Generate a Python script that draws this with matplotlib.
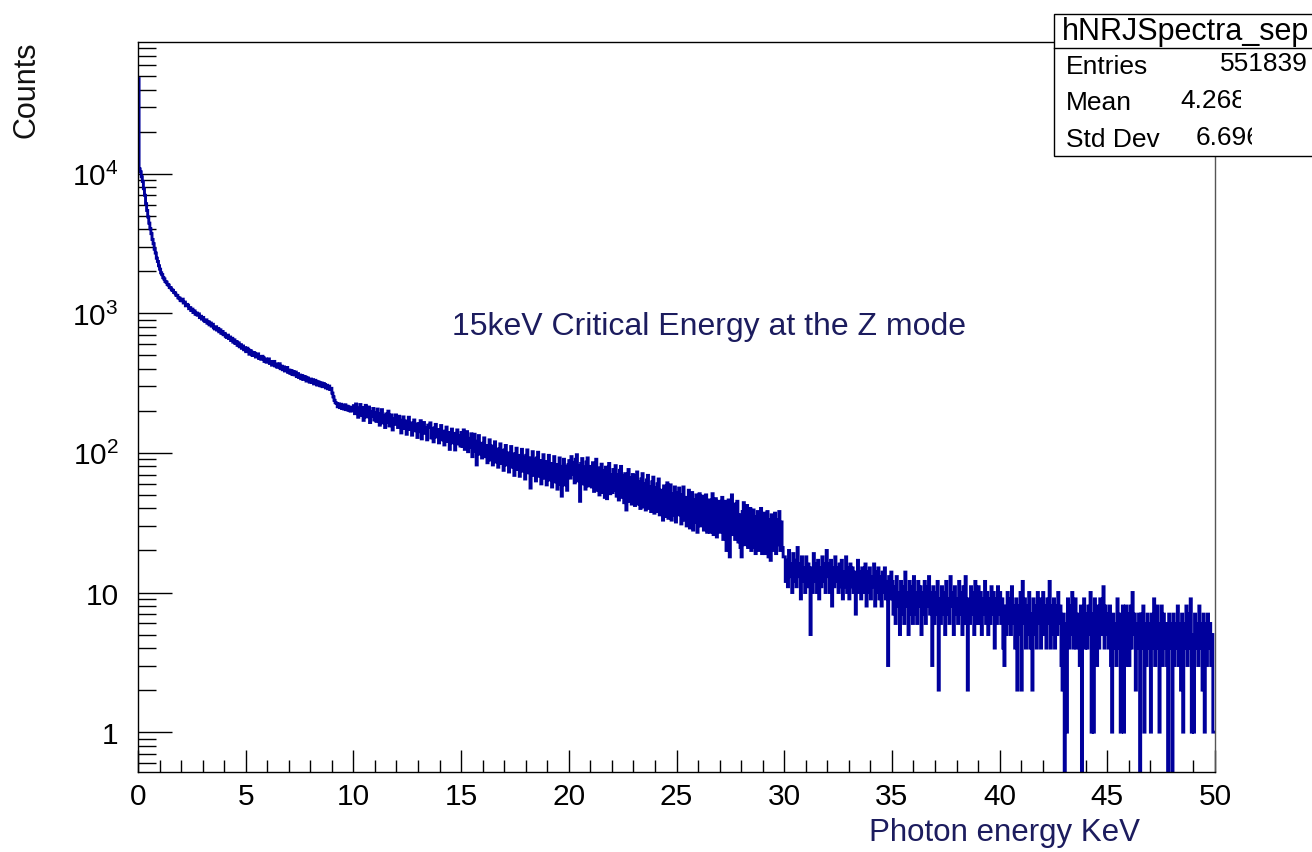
import numpy as np
import matplotlib
matplotlib.use("Agg")
import matplotlib.pyplot as plt
from matplotlib.patches import Rectangle
from matplotlib.lines import Line2D
from matplotlib.transforms import Bbox, TransformedBbox
from matplotlib.ticker import FixedLocator, MultipleLocator, LogLocator, NullFormatter

plt.rcParams['font.family'] = ['Liberation Sans', 'DejaVu Sans']
plt.rcParams['mathtext.fontset'] = 'custom'
plt.rcParams['mathtext.rm'] = 'Liberation Sans'
plt.rcParams['mathtext.it'] = 'Liberation Sans:italic'
plt.rcParams['mathtext.bf'] = 'Liberation Sans:bold'

# ---- spectrum: counts per 0.05 keV bin, in 5 keV blocks ----
bin_width = 0.05

counts_00_05 = [
    48000, 10800, 10300, 9500, 8800, 7800, 7000, 6100, 5450, 4900,
    4420, 4030, 3720, 3380, 3150, 2880, 2700, 2480, 2350, 2190,
    2070, 1950, 1890, 1800, 1760, 1690, 1670, 1610, 1590, 1530,
    1520, 1470, 1460, 1410, 1400, 1350, 1340, 1290, 1285, 1240,
    1228, 1262, 1185, 1203, 1131, 1158, 1142, 1079, 1098, 1046,
    1071, 1012, 1040, 983, 1005, 968, 990, 931, 952, 908,
    934, 886, 872, 897, 849, 871, 826, 852, 809, 834,
    786, 772, 801, 758, 779, 737, 761, 718, 741, 702,
    718, 684, 671, 697, 659, 676, 638, 662, 621, 645,
    607, 628, 589, 614, 575, 596, 561, 583, 548, 566,
]
counts_05_10 = [
    531, 562, 548, 509, 541, 527, 498, 523, 517, 486,
    503, 512, 474, 489, 468, 492, 481, 452, 470, 446,
    462, 471, 437, 451, 425, 446, 452, 419, 433, 410,
    427, 435, 401, 418, 394, 413, 386, 404, 409, 377,
    392, 371, 389, 364, 381, 362, 379, 352, 370, 347,
    361, 340, 358, 336, 352, 349, 327, 345, 331, 321,
    338, 319, 334, 312, 331, 326, 306, 323, 318, 302,
    317, 298, 314, 309, 292, 305, 288, 301, 285, 290,
    268, 252, 238, 229, 226, 214, 224, 211, 223, 208,
    219, 206, 221, 204, 216, 202, 213, 199, 211, 203,
]
counts_10_15 = [
    218, 191, 224, 209, 180, 206, 222, 186, 211, 171,
    203, 219, 181, 198, 213, 165, 197, 183, 208, 172,
    194, 168, 206, 181, 158, 190, 204, 164, 184, 152,
    190, 166, 199, 156, 178, 187, 146, 176, 160, 187,
    178, 152, 183, 158, 139, 171, 181, 150, 169, 136,
    168, 180, 147, 164, 134, 161, 172, 144, 160, 129,
    162, 142, 170, 126, 156, 165, 138, 152, 124, 158,
    152, 164, 128, 149, 120, 151, 160, 130, 146, 118,
    146, 157, 124, 143, 114, 142, 153, 121, 140, 106,
    140, 148, 118, 137, 105, 138, 146, 116, 133, 112,
]
counts_15_20 = [
    140, 111, 146, 106, 129, 142, 102, 127, 110, 137,
    94, 126, 136, 103, 82, 121, 133, 98, 117, 92,
    117, 128, 94, 113, 85, 111, 124, 89, 112, 82,
    108, 120, 86, 105, 79, 107, 116, 84, 103, 75,
    105, 113, 82, 100, 73, 99, 111, 79, 98, 69,
    98, 108, 76, 95, 68, 96, 106, 74, 93, 65,
    96, 105, 72, 92, 56, 91, 102, 69, 90, 63,
    92, 101, 68, 88, 60, 87, 97, 66, 86, 59,
    86, 96, 64, 84, 57, 83, 94, 62, 82, 55,
    82, 92, 60, 49, 80, 90, 59, 79, 54, 82,
]
counts_20_25 = [
    88, 66, 94, 70, 85, 61, 90, 97, 63, 81,
    45, 84, 91, 60, 79, 55, 86, 92, 58, 76,
    80, 57, 85, 53, 75, 90, 54, 78, 50, 72,
    83, 52, 74, 48, 79, 47, 73, 84, 51, 70,
    52, 76, 54, 81, 49, 70, 46, 75, 80, 48,
    69, 44, 71, 39, 67, 76, 45, 66, 43, 70,
    64, 42, 68, 73, 43, 62, 40, 65, 71, 41,
    60, 39, 64, 69, 40, 57, 38, 62, 67, 37,
    56, 38, 60, 65, 36, 54, 37, 33, 58, 35,
    52, 61, 34, 53, 59, 33, 51, 36, 57, 32,
]
counts_25_30 = [
    52, 36, 56, 39, 31, 50, 57, 33, 48, 30,
    47, 54, 29, 44, 52, 28, 46, 32, 50, 27,
    45, 51, 30, 43, 49, 28, 42, 50, 27, 40,
    46, 27, 42, 51, 26, 40, 47, 25, 38, 45,
    27, 41, 48, 24, 39, 45, 20, 40, 46, 18,
    37, 50, 26, 43, 24, 38, 45, 23, 36, 21,
    18, 38, 44, 22, 35, 42, 21, 34, 40, 20,
    33, 39, 21, 19, 35, 38, 20, 33, 40, 19,
    32, 37, 19, 31, 38, 18, 33, 17, 36, 20,
    31, 37, 19, 33, 22, 38, 20, 32, 21, 18,
]
counts_30_35 = [
    18, 12, 17, 11, 20, 13, 16, 10, 19, 12,
    17, 11, 21, 13, 16, 9, 18, 12, 15, 10,
    18, 11, 16, 12, 5, 15, 10, 19, 12, 16,
    10, 17, 9, 15, 11, 18, 12, 16, 10, 20,
    13, 16, 10, 17, 8, 15, 11, 18, 12, 15,
    10, 16, 11, 17, 9, 14, 11, 18, 10, 15,
    9, 16, 11, 15, 10, 14, 7, 13, 17, 10,
    14, 9, 15, 10, 13, 16, 8, 14, 10, 15,
    9, 13, 11, 16, 8, 14, 10, 15, 9, 13,
    8, 14, 10, 15, 9, 12, 3, 13, 9, 14,
]
counts_35_40 = [
    12, 7, 11, 6, 13, 8, 10, 5, 12, 7,
    11, 6, 14, 8, 10, 5, 12, 7, 11, 6,
    13, 7, 10, 6, 12, 8, 11, 5, 10, 7,
    12, 6, 11, 8, 13, 7, 10, 3, 11, 6,
    10, 7, 12, 2, 9, 6, 11, 7, 10, 5,
    12, 7, 9, 6, 13, 8, 10, 5, 11, 7,
    9, 6, 12, 7, 10, 5, 11, 6, 13, 7,
    2, 9, 6, 11, 7, 10, 5, 12, 6, 9,
    11, 6, 10, 5, 9, 7, 12, 6, 10, 5,
    9, 6, 11, 7, 10, 4, 9, 6, 11, 7,
]
counts_40_45 = [
    10, 6, 9, 4, 3, 8, 5, 10, 6, 9,
    5, 11, 6, 8, 4, 9, 2, 8, 5, 10,
    2, 12, 6, 9, 4, 8, 5, 10, 4, 7,
    2, 9, 5, 8, 4, 10, 6, 9, 4, 7,
    10, 5, 8, 4, 9, 6, 12, 4, 8, 5,
    9, 4, 8, 5, 10, 6, 8, 3, 2, 7,
    0, 6, 1, 9, 4, 8, 5, 10, 4, 7,
    9, 4, 7, 5, 3, 8, 0, 6, 9, 4,
    7, 4, 8, 5, 10, 1, 7, 1, 9, 5,
    3, 8, 4, 9, 5, 7, 11, 4, 8, 5,
]
counts_45_50 = [
    7, 4, 8, 3, 1, 7, 4, 6, 3, 9,
    4, 7, 1, 6, 8, 1, 5, 8, 3, 7,
    3, 8, 4, 10, 5, 7, 2, 6, 4, 7,
    0, 7, 4, 8, 1, 6, 3, 7, 4, 6,
    1, 7, 4, 9, 3, 6, 8, 4, 1, 6,
    8, 3, 7, 4, 6, 3, 0, 7, 4, 6,
    0, 7, 3, 6, 4, 8, 3, 6, 2, 7,
    1, 6, 4, 8, 3, 7, 4, 9, 1, 5,
    1, 7, 4, 6, 3, 8, 4, 6, 2, 7,
    1, 6, 3, 7, 4, 6, 3, 5, 1, 1,
]

y_major_ticks = [1, 10, 100, 1000, 10000]
y_major_labels = ['1', '10', r'$10^{2}$', r'$10^{3}$', r'$10^{4}$']
x_major_ticks = [0, 5, 10, 15, 20, 25, 30, 35, 40, 45, 50]

hist_name = 'hNRJSpectra_sep'
stat_entries = '551839'
stat_mean = '4.268'
stat_std = '6.696'

HIST_COLOR = '#00009c'
TEXT_NAVY = '#1c1c5e'

counts = np.concatenate([counts_00_05, counts_05_10, counts_10_15, counts_15_20,
                         counts_20_25, counts_25_30, counts_30_35, counts_35_40,
                         counts_40_45, counts_45_50]).astype(float)
edges = np.arange(len(counts) + 1) * bin_width

W, H = 1312, 853
fig = plt.figure(figsize=(W / 100, H / 100), dpi=100)


def fx(px):
    return px / W


def fy(py):
    return 1 - py / H


ax = fig.add_axes([fx(138), fy(773), fx(1215) - fx(138), fy(43) - fy(773)])
ax.set_yscale('log', nonpositive='clip')
ax.plot(edges, np.append(counts, counts[-1]), drawstyle='steps-post',
        color=HIST_COLOR, lw=2.1, solid_joinstyle='miter')
ax.set_xlim(0, 50)
ax.set_ylim(0.518, 87700)

ax.yaxis.set_major_locator(FixedLocator(y_major_ticks))
ax.set_yticklabels(y_major_labels)
ax.yaxis.set_minor_locator(LogLocator(base=10, subs=np.arange(2, 10)))
ax.yaxis.set_minor_formatter(NullFormatter())
ax.xaxis.set_major_locator(FixedLocator(x_major_ticks))
ax.set_xticklabels([str(v) for v in x_major_ticks])
ax.xaxis.set_minor_locator(MultipleLocator(1))

ax.tick_params(axis='both', which='both', direction='in', top=False, right=False,
               width=1.0, color='black', labelsize=21.5)
ax.tick_params(axis='y', which='major', length=24.5, pad=14)
ax.tick_params(axis='y', which='minor', length=13)
ax.tick_params(axis='x', which='major', length=16, pad=7)
ax.tick_params(axis='x', which='minor', length=8.5)
for s in ax.spines.values():
    s.set_linewidth(1.0)
ax.spines['right'].set_color('#555555')

fig.text(fx(27), fy(42), 'Counts', rotation=90, ha='center', va='top',
         fontsize=22, color='#111111')
fig.text(fx(1140), fy(833), 'Photon energy KeV', ha='right', va='center',
         fontsize=22.5, color=TEXT_NAVY)
fig.text(fx(452), fy(327), '15keV Critical Energy at the Z mode', ha='left',
         va='center', fontsize=23, color=TEXT_NAVY)

# statistics box in the top right corner
box = Rectangle((fx(1054), fy(157)), 1.02 - fx(1054), fy(15) - fy(157),
                transform=fig.transFigure, facecolor='white', edgecolor='black',
                lw=1.0, zorder=10, clip_on=False)
fig.add_artist(box)
fig.add_artist(Line2D([fx(1054), 1.02], [fy(49), fy(49)], transform=fig.transFigure,
                      color='black', lw=1.0, zorder=11))

fig.text(fx(1062), fy(32), hist_name, ha='left', va='center', fontsize=22,
         color='black', zorder=12)
fig.text(fx(1066), fy(67), 'Entries', ha='left', va='center', fontsize=19, zorder=12)
fig.text(fx(1066), fy(103), 'Mean', ha='left', va='center', fontsize=19, zorder=12)
fig.text(fx(1066), fy(140), 'Std Dev', ha='left', va='center', fontsize=19, zorder=12)
fig.text(fx(1308), fy(64), stat_entries, ha='right', va='center', fontsize=19, zorder=12)

t_mean = fig.text(fx(1180), fy(101), stat_mean, ha='left', va='center', fontsize=19, zorder=12)
t_mean.set_clip_box(TransformedBbox(Bbox([[fx(1170), 0], [fx(1241), 1]]), fig.transFigure))
t_mean.set_clip_on(True)
t_std = fig.text(fx(1196), fy(138), stat_std, ha='left', va='center', fontsize=19, zorder=12)
t_std.set_clip_box(TransformedBbox(Bbox([[fx(1186), 0], [fx(1252), 1]]), fig.transFigure))
t_std.set_clip_on(True)

fig.savefig('out.png', dpi=100)
